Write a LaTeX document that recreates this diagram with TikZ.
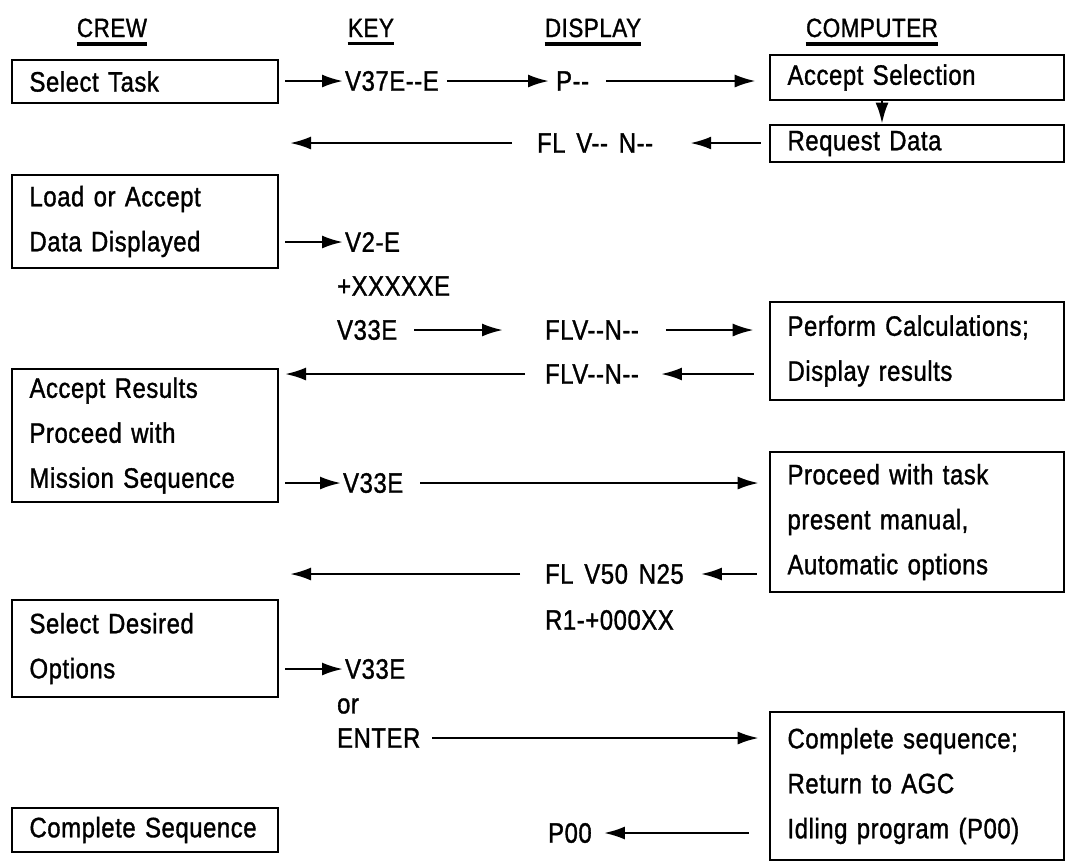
\documentclass[tikz,border=0pt]{standalone}
\usepackage{fontspec}
\newfontfamily\agcfont{Liberation Sans}[FakeStretch=0.85,FakeBold=1.2,LetterSpace=2,WordSpace=1.5]
\usetikzlibrary{arrows.meta}

\tikzset{
  arr/.style={line width=1.4pt,-{Latex[length=0.42cm,width=0.26cm]}},
  crewbox/.style={draw,line width=1.5pt,text width=4.62cm,inner xsep=0.35cm,align=left},
  cpubox/.style={draw,line width=1.5pt,text width=5.18cm,inner xsep=0.35cm,align=left},
  lbl/.style={anchor=west,inner sep=1pt},
  head/.style={anchor=base,inner xsep=0pt,inner ysep=3.5pt,font=\agcfont\fontsize{15}{16}\selectfont},
  uline/.style={line width=2.2pt}
}

\begin{document}
\begin{tikzpicture}[x=0.02cm,y=-0.02cm,every node/.style={font=\agcfont\fontsize{16}{25.6}\selectfont}]
\useasboundingbox (0,0) rectangle (1070,867);

% column heads
\node[head] (hCrew) at (112,37) {CREW};
\node[head] (hKey) at (371,37) {KEY};
\node[head] (hDisp) at (593,37) {DISPLAY};
\node[head] (hCpu) at (872,37) {COMPUTER};
\foreach \h in {hCrew,hKey,hDisp,hCpu}
  \draw[uline] (\h.south west) -- (\h.south east);

% crew boxes
\node[crewbox,minimum height=0.86cm] (selTask) at (145,81.5) {Select Task};
\node[crewbox,minimum height=1.86cm] (loadBox) at (145,221.5) {Load or Accept\\Data Displayed};
\node[crewbox,minimum height=2.66cm] (accRes) at (145,435.5) {Accept Results\\Proceed with\\Mission Sequence};
\node[crewbox,minimum height=1.94cm] (optBox) at (145,648.5) {Select Desired\\Options};
\node[crewbox,minimum height=0.88cm] (doneBox) at (145,830) {Complete Sequence};

% computer boxes
\node[cpubox,minimum height=0.9cm] (accSel) at (917,77.5) {Accept Selection};
\node[cpubox,minimum height=0.74cm] (reqData) at (917,143.5) {Request Data};
\node[cpubox,minimum height=1.96cm] (perfBox) at (917,351) {Perform Calculations;\\Display results};
\node[cpubox,minimum height=2.8cm] (proBox) at (917,522) {Proceed with task\\present manual,\\Automatic options};
\node[cpubox,minimum height=2.96cm] (compBox) at (917,786) {Complete sequence;\\Return to AGC\\Idling program (P00)};

% key and display entries
\node[lbl] (kV37) at (343,81) {V37E--E};
\node[lbl] (dP) at (554,81) {P--};
\node[lbl] (dFL1) at (535,143) {FL V-- N--};
\node[lbl] (kV2) at (343,242) {V2-E};
\node[lbl] (kX) at (335,286) {+XXXXXE};
\node[lbl] (kV33a) at (335,330) {V33E};
\node[lbl] (dFL2) at (543,330) {FLV--N--};
\node[lbl] (dFL3) at (543,374) {FLV--N--};
\node[lbl] (kV33b) at (341,483) {V33E};
\node[lbl] (dFL4) at (543,574) {FL V50 N25};
\node[lbl] (dR1) at (543,620) {R1-+000XX};
\node[lbl] (kV33c) at (343,669) {V33E};
\node[lbl] (kOr) at (335,706) {or};
\node[lbl] (kEnt) at (335,738) {ENTER};
\node[lbl] (dP00) at (546,833) {P00};

\coordinate (c1) at (290,143);
\coordinate (c2) at (285,374);
\coordinate (c3) at (290,574);
\coordinate (dropX) at (882,0);

% connectors
\draw[arr,shorten <=0.12cm] (selTask.east |- kV37) -- (kV37);
\draw[arr,shorten <=0.12cm,shorten >=0.1cm] (kV37) -- (dP);
\draw[arr,shorten <=0.3cm,shorten >=0.26cm] (dP) -- (dP -| accSel.west);
\draw[arr] (accSel.south -| dropX) -- (reqData.north -| dropX);
\draw[arr,shorten <=0.16cm,shorten >=0.7cm] (reqData.west |- dFL1) -- (dFL1);
\draw[arr,shorten <=0.46cm] (dFL1) -- (c1);
\draw[arr,shorten <=0.12cm] (loadBox.east |- kV2) -- (kV2);
\draw[arr,shorten <=0.3cm,shorten >=0.8cm] (kV33a) -- (dFL2);
\draw[arr,shorten <=0.5cm,shorten >=0.3cm] (dFL2) -- (dFL2 -| perfBox.west);
\draw[arr,shorten <=0.3cm,shorten >=0.4cm] (perfBox.west |- dFL3) -- (dFL3);
\draw[arr,shorten <=0.36cm] (dFL3) -- (c2);
\draw[arr,shorten <=0.12cm] (accRes.east |- kV33b) -- (kV33b);
\draw[arr,shorten <=0.3cm,shorten >=0.2cm] (kV33b) -- (kV33b -| proBox.west);
\draw[arr,shorten <=0.24cm,shorten >=0.3cm] (proBox.west |- dFL4) -- (dFL4);
\draw[arr,shorten <=0.46cm] (dFL4) -- (c3);
\draw[arr,shorten <=0.12cm] (optBox.east |- kV33c) -- (kV33c);
\draw[arr,shorten <=0.2cm,shorten >=0.2cm] (kEnt) -- (kEnt -| compBox.west);
\draw[arr,shorten <=0.4cm,shorten >=0.2cm] (compBox.west |- dP00) -- (dP00);
\end{tikzpicture}
\end{document}
